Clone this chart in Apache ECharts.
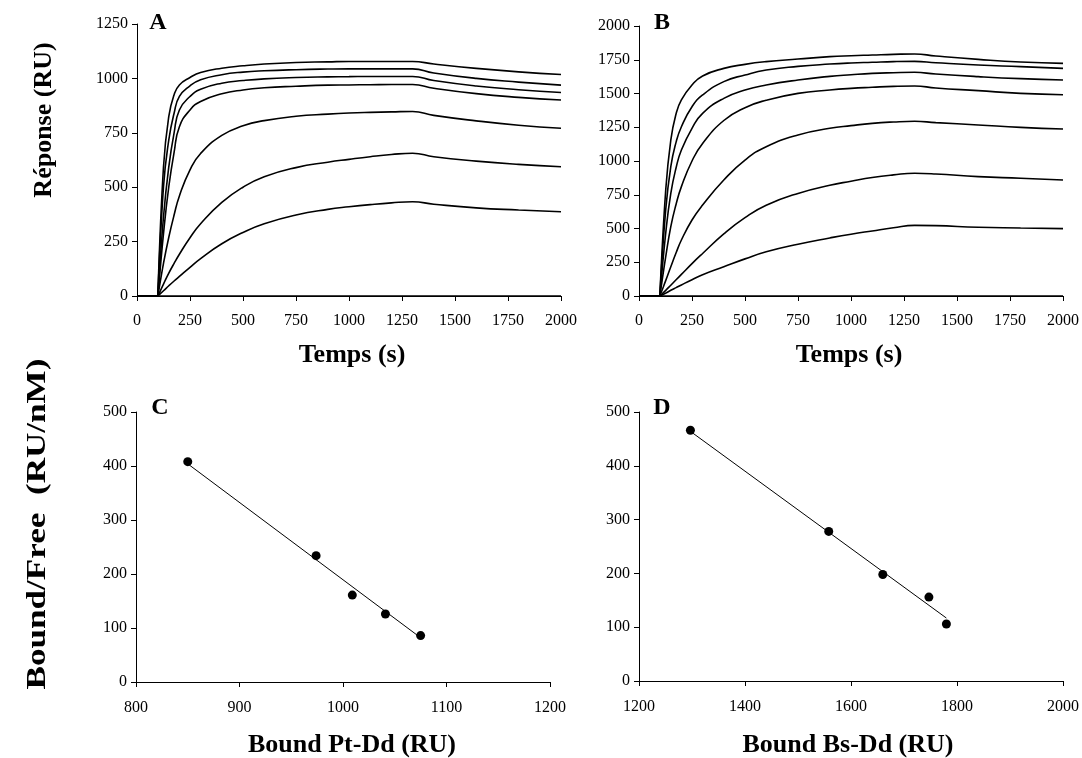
<!DOCTYPE html>
<html>
<head>
<meta charset="utf-8">
<script src="https://cdn.jsdelivr.net/npm/echarts@6/dist/echarts.min.js"></script>
<style>
html,body{margin:0;padding:0;background:#fff;}
#chart{width:1082px;height:758px;}
</style>
</head>
<body>
<div id="chart"></div>
<script>
// ---- Panel A & B sensorgrams (time in s, response in RU) ----
const timePts = [0,98,100,125,150,175,200,250,300,400,500,600,750,900,1000,1100,1200,1300,1400,1600,1800,2000];

const a1 = [0,0,0,594,825,925,970,1004,1027,1047,1058,1066,1073,1076,1078,1078,1078,1078,1066,1046,1030,1018];
const a2 = [0,0,0,502,717,840,917,966,994,1017,1029,1035,1040,1043,1044,1044,1044,1044,1025,1000,983,969];
const a3 = [0,0,0,364,594,750,855,917,950,978,990,998,1004,1007,1008,1009,1009,1009,990,965,948,935];
const a4 = [0,0,0,287,502,660,778,855,894,929,947,957,964,969,970,971,972,972,955,930,913,901];
const a5 = [0,0,0,150,270,372,460,580,655,738,782,806,826,836,841,844,846,848,830,805,785,771];
const a6 = [0,0,0,55,105,150,192,268,332,430,500,548,590,615,628,640,650,656,640,620,605,594];
const a7 = [0,0,0,24,47,69,90,132,172,240,292,332,372,398,410,420,428,433,422,405,395,387];
const a8 = [0,0,0,0,0,0,0,0,0,0,0,0,0,0,0,0,0,0,0,0,0,0];

const b1 = [0,0,0,760,1155,1350,1452,1563,1630,1686,1716,1736,1755,1773,1780,1785,1790,1793,1778,1753,1733,1723];
const b2 = [0,0,0,620,958,1140,1254,1402,1489,1588,1637,1674,1701,1718,1726,1731,1736,1738,1728,1711,1699,1686];
const b3 = [0,0,0,450,760,950,1081,1242,1353,1464,1526,1563,1600,1627,1639,1649,1654,1657,1644,1625,1610,1600];
const b4 = [0,0,0,280,514,680,810,1000,1130,1300,1395,1450,1501,1526,1538,1546,1553,1556,1541,1521,1501,1491];
const b5 = [0,0,0,110,217,320,415,563,674,859,1007,1106,1193,1242,1262,1279,1289,1294,1284,1267,1249,1237];
const b6 = [0,0,0,40,80,120,160,240,315,460,580,672,760,820,850,878,897,909,904,884,872,859];
const b7 = [0,0,0,21,42,62,82,121,158,217,275,328,384,430,458,482,505,523,521,509,504,499];
const b8 = [0,0,0,0,0,0,0,0,0,0,0,0,0,0,0,0,0,0,0,0,0,0];

// ---- Panel C & D Scatchard plots ----
const cBound = [850, 974, 1009, 1041, 1075];
const cRatio = [408, 234, 161, 126, 86];
const cFitX = [850, 1075];
const cFitY = [404, 82];

const dBound = [1297, 1558, 1660, 1747, 1780];
const dRatio = [466, 278, 198, 156, 106];
const dFitX = [1297, 1780];
const dFitY = [464, 117];

// ---- Axis labels / texts ----
const panelLetters = ['A','B','C','D'];
const xTitles = ['Temps (s)','Temps (s)','Bound Pt-Dd (RU)','Bound Bs-Dd (RU)'];
const yTitles = ['Réponse (RU)','Bound/Free  (RU/nM)'];

const FONT = '"Liberation Serif", "Times New Roman", serif';

function pairs(xs, ys){ return xs.map((x,i)=>[x, ys[i]]); }

function axisCommon(){
  return {
    axisLine:{show:true, lineStyle:{color:'#000', width:1}},
    axisTick:{show:true, inside:false, length:5, lineStyle:{color:'#000', width:1}},
    splitLine:{show:false},
    axisLabel:{color:'#000', fontFamily:FONT, fontSize:16, showMinLabel:true, showMaxLabel:true,
      formatter:(v)=>String(v)}
  };
}
function xAx(grid, min, max, interval, margin){
  const a = axisCommon();
  a.axisLabel.margin = margin;
  return Object.assign({type:'value', gridIndex:grid, min, max, interval}, a);
}
function yAx(grid, min, max, interval){
  const a = axisCommon();
  a.axisLabel.margin = 9;
  return Object.assign({type:'value', gridIndex:grid, min, max, interval}, a);
}

const curveStyle = {color:'#000', width:1.6};
function curve(idx, arr){
  return {type:'line', xAxisIndex:idx, yAxisIndex:idx, data:pairs(timePts, arr),
    showSymbol:false, smooth:0.5, lineStyle:curveStyle, silent:true, animation:false};
}

const series = [];
[a1,a2,a3,a4,a5,a6,a7,a8].forEach(s=>series.push(curve(0,s)));
[b1,b2,b3,b4,b5,b6,b7,b8].forEach(s=>series.push(curve(1,s)));
series.push({type:'line', xAxisIndex:2, yAxisIndex:2, data:pairs(cFitX,cFitY), showSymbol:false,
  lineStyle:{color:'#000', width:1}, animation:false});
series.push({type:'scatter', xAxisIndex:2, yAxisIndex:2, data:pairs(cBound,cRatio), symbol:'circle',
  symbolSize:9, itemStyle:{color:'#000', opacity:1}, animation:false});
series.push({type:'line', xAxisIndex:3, yAxisIndex:3, data:pairs(dFitX,dFitY), showSymbol:false,
  lineStyle:{color:'#000', width:1}, animation:false});
series.push({type:'scatter', xAxisIndex:3, yAxisIndex:3, data:pairs(dBound,dRatio), symbol:'circle',
  symbolSize:9, itemStyle:{color:'#000', opacity:1}, animation:false});

function txt(text, x, y, size, rot, sx){
  return {type:'text', x, y, rotation: rot||0, scaleX: sx||1,
    style:{text, fill:'#000', font:'bold '+size+'px '+FONT, textAlign:'center', textVerticalAlign:'middle'}};
}

const option = {
  backgroundColor:'#fff',
  animation:false,
  grid:[
    {left:137, top:24, width:424, height:272},
    {left:639, top:26, width:424, height:270},
    {left:136, top:412, width:414, height:270},
    {left:639, top:412, width:424, height:269}
  ],
  xAxis:[
    xAx(0, 0, 2000, 250, 17),
    xAx(1, 0, 2000, 250, 17),
    xAx(2, 800, 1200, 100, 18),
    xAx(3, 1200, 2000, 200, 18)
  ],
  yAxis:[
    yAx(0, 0, 1250, 250),
    yAx(1, 0, 2000, 250),
    yAx(2, 0, 500, 100),
    yAx(3, 0, 500, 100)
  ],
  series,
  graphic:[
    txt(panelLetters[0], 158, 23, 24),
    txt(panelLetters[1], 662, 23, 24),
    txt(panelLetters[2], 160, 408, 24),
    txt(panelLetters[3], 662, 408, 24),
    txt(xTitles[0], 352, 355, 26),
    txt(xTitles[1], 849, 355, 26),
    txt(xTitles[2], 352, 745, 26),
    txt(xTitles[3], 848, 745, 26),
    txt(yTitles[0], 44, 120, 26, Math.PI/2),
    txt(yTitles[1], 38, 524, 27, Math.PI/2, 1.3)
  ]
};

const chart = echarts.init(document.getElementById('chart'), null, {renderer:'canvas'});
chart.setOption(option);
</script>
</body>
</html>
